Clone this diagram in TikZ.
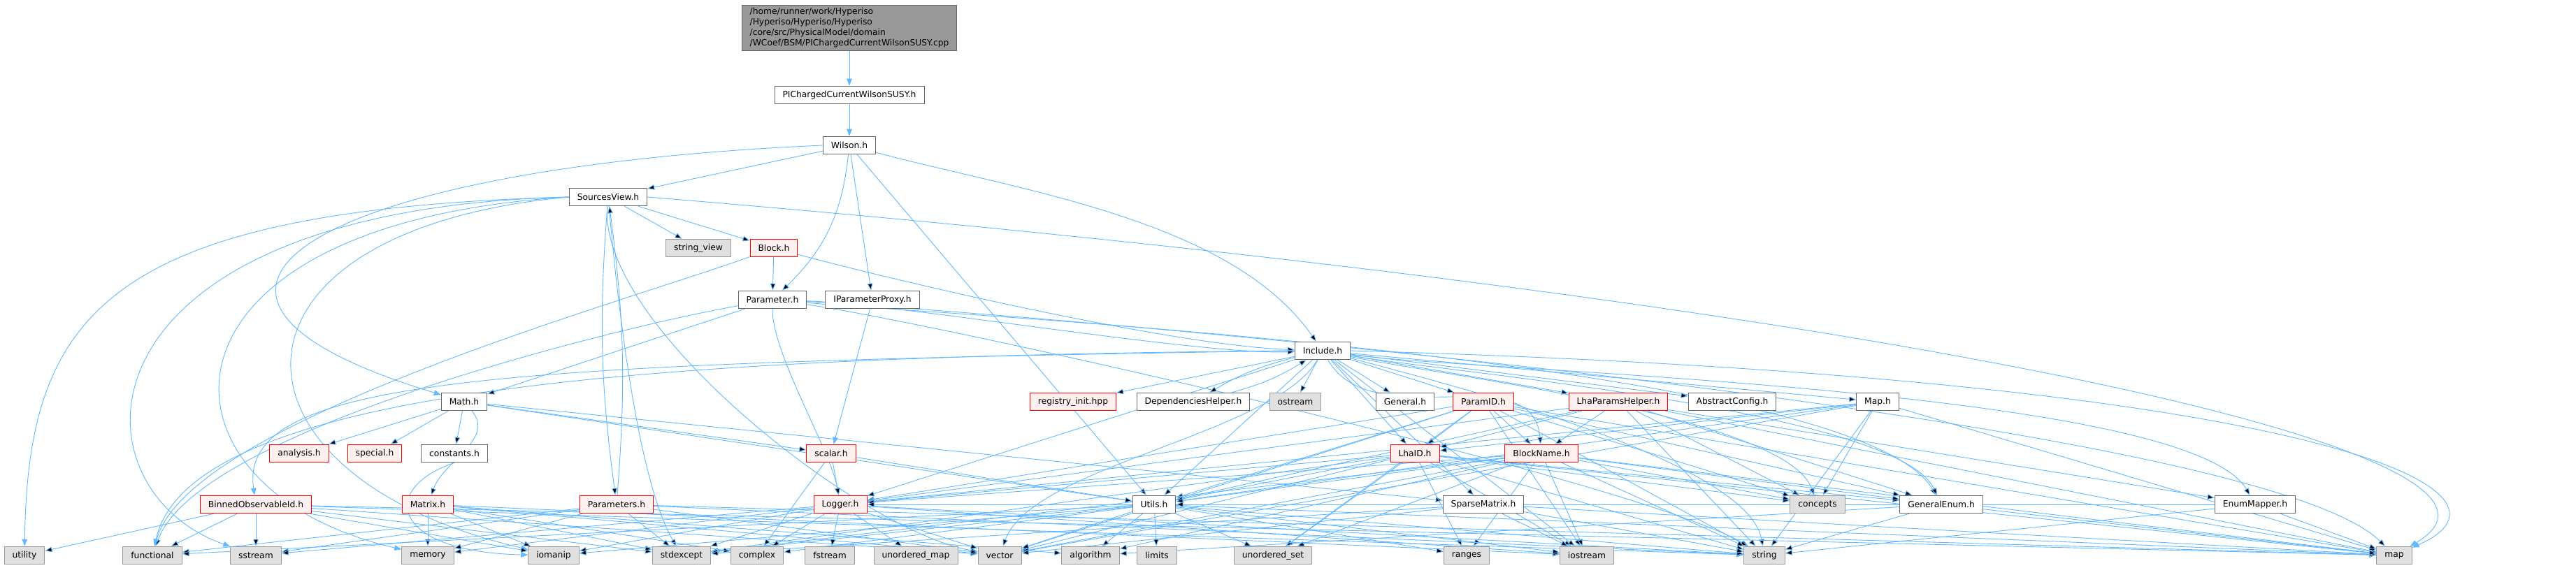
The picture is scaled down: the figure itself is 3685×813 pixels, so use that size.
\documentclass[tikz,border=0pt]{standalone}
\usepackage{fontspec}
\setmainfont{DejaVu Sans}
\usetikzlibrary{arrows.meta}
\definecolor{edgeblue}{HTML}{63B8FF}
\definecolor{boxgray}{HTML}{666666}
\definecolor{sysfill}{HTML}{E0E0E0}
\definecolor{sysdraw}{HTML}{999999}
\definecolor{redfill}{HTML}{FFF0F0}
\definecolor{topfill}{HTML}{999999}
\pgfdeclarelayer{edges}
\pgfsetlayers{edges,main}
\tikzset{
  hdr/.style={draw=boxgray,fill=white,line width=0.25pt,minimum height=6.375pt,
    inner xsep=2.875pt,inner ysep=0pt,font=\fontsize{3.075}{3.75}\selectfont},
  sys/.style={hdr,draw=sysdraw,fill=sysfill},
  miss/.style={hdr,draw=red,fill=redfill},
  dep/.style={draw=edgeblue,line width=0.225pt,-{Triangle[length=2.5pt,width=1.9pt]}},
}
\begin{document}
\begin{tikzpicture}[x=0.25pt,y=-0.25pt]
                \useasboundingbox (0,0) rectangle (3685,813);
                %% source file and its header
                \node[hdr,fill=topfill,align=left,inner ysep=1pt] (top) at (1215,40) {/home/runner/work/Hyperiso\\/Hyperiso/Hyperiso/Hyperiso\\/core/src/PhysicalModel/domain\\/WCoef/BSM/PIChargedCurrentWilsonSUSY.cpp};
                \node[hdr] (pich) at (1215,136) {PIChargedCurrentWilsonSUSY.h};
                \node[hdr] (wil) at (1215,208) {Wilson.h};
                \node[hdr] (sview) at (870,282) {SourcesView.h};
                \node[sys] (strv) at (999,355) {string\_view};
                \node[miss] (block) at (1107,355) {Block.h};
                \node[hdr] (param) at (1105,429) {Parameter.h};
                \node[hdr] (iproxy) at (1248,429) {IParameterProxy.h};
                \node[hdr] (inc) at (1892,502) {Include.h};
                %% rank below Include.h
                \node[hdr] (math) at (664,575) {Math.h};
                \node[miss] (reg) at (1535,575) {registry\_init.hpp};
                \node[hdr] (deph) at (1707,575) {DependenciesHelper.h};
                \node[sys] (ostr) at (1853,575) {ostream};
                \node[hdr] (gen) at (2010,575) {General.h};
                \node[miss] (pid) at (2122,575) {ParamID.h};
                \node[miss] (lhah) at (2315,575) {LhaParamsHelper.h};
                \node[hdr] (absc) at (2478,575) {AbstractConfig.h};
                \node[hdr] (mapn) at (2686,575) {Map.h};
                %% middle rank
                \node[miss] (ana) at (428,649) {analysis.h};
                \node[miss] (spec) at (536,649) {special.h};
                \node[hdr] (cnst) at (650,649) {constants.h};
                \node[miss] (scal) at (1189,649) {scalar.h};
                \node[miss] (lid) at (2024,649) {LhaID.h};
                \node[miss] (bname) at (2205,649) {BlockName.h};
                %% rank above the system headers
                \node[miss] (binned) at (366,722) {BinnedObservableId.h};
                \node[miss] (matrix) at (612,722) {Matrix.h};
                \node[miss] (params) at (882,722) {Parameters.h};
                \node[miss] (logger) at (1202,722) {Logger.h};
                \node[hdr] (utils) at (1651,722) {Utils.h};
                \node[hdr] (sparse) at (2122,722) {SparseMatrix.h};
                \node[sys] (conc) at (2600,722) {concepts};
                \node[hdr] (genum) at (2777,722) {GeneralEnum.h};
                \node[hdr] (emap) at (3226,722) {EnumMapper.h};
                %% system headers
                \node[sys] (utility) at (35,795) {utility};
                \node[sys] (functional) at (218,795) {functional};
                \node[sys] (sstream) at (366,795) {sstream};
                \node[sys] (memory) at (612,795) {memory};
                \node[sys] (iomanip) at (792,795) {iomanip};
                \node[sys] (stdexc) at (975,795) {stdexcept};
                \node[sys] (complex) at (1083,795) {complex};
                \node[sys] (fstream) at (1187,795) {fstream};
                \node[sys] (umap) at (1310,795) {unordered\_map};
                \node[sys] (vector) at (1430,795) {vector};
                \node[sys] (algo) at (1560,795) {algorithm};
                \node[sys] (limits) at (1655,795) {limits};
                \node[sys] (uset) at (1821,795) {unordered\_set};
                \node[sys] (ranges) at (2098,795) {ranges};
                \node[sys] (iostream) at (2270,795) {iostream};
                \node[sys] (string) at (2524,795) {string};
                \node[sys] (map) at (3425,795) {map};
                \begin{pgfonlayer}{edges}
                %% top chain
                \draw[dep] (top) -- (pich);
                \draw[dep] (pich) -- (wil);
                %% Wilson.h
                \draw[dep] (wil) edge (sview) edge[bend left=20] (param) edge (iproxy) edge (utils)
                    edge[out=-15,in=125,looseness=0.8] (inc);
                \draw[dep] (wil.west) .. controls (450,240) and (150,420) .. (math);
                %% SourcesView.h
                \draw[dep] (sview) edge (strv) edge (block) edge[bend right=6] (params)
                    edge[out=-95,in=170,looseness=0.6] (vector) edge[out=-85,in=120,looseness=0.6] (stdexc);
                \draw[dep] (sview.west) .. controls (150,300) and (40,450) .. (utility);
                \draw[dep] (sview.west) .. controls (90,300) and (95,700) .. (sstream);
                \draw[dep] (sview.west) .. controls (190,320) and (200,700) .. (memory);
                \draw[dep] (sview.west) .. controls (290,330) and (300,680) .. (iomanip);
                \draw[dep] (sview.east) .. controls (2600,420) and (3690,640) .. (map);
                \draw[dep] (params) edge[bend right=6] (sview);
                %% Block.h and Parameter.h
                \draw[dep] (block) edge (param) edge[out=-15,in=178,looseness=0.6] (inc)
                    edge[out=200,in=75,looseness=0.5] (functional);
                \draw[dep] (param) edge[out=-2,in=182,looseness=0.5] (inc) edge (math)
                    edge[out=190,in=70,looseness=0.5] (functional)
                    edge[out=-90,in=100,looseness=0.6] (logger) edge[out=-5,in=120,looseness=0.35] (genum)
                    edge[out=-8,in=150,looseness=0.35] (string) edge[out=-3,in=135,looseness=0.3] (map);
                \draw[dep] (iproxy) -- (scal);
                %% Include.h
                \draw[dep] (inc) edge (ostr) edge (gen) edge (pid) edge (lhah) edge (absc) edge (mapn)
                    edge (lid) edge[out=-60,in=95] (bname) edge[bend right=8] (deph) edge (reg)
                    edge (logger) edge (utils) edge (sparse) edge[out=-10,in=115,looseness=0.4] (genum)
                    edge[out=-8,in=120,looseness=0.35] (emap) edge[out=-12,in=110,looseness=0.45] (conc)
                    edge[out=-15,in=100,looseness=0.5] (string)
                    edge (iostream) edge[out=-120,in=70,looseness=0.6] (vector);
                \draw[dep] (inc.west) .. controls (700,520) and (340,540) .. (binned);
                \draw[dep] (inc.west) .. controls (900,510) and (270,560) .. (functional);
                \draw[dep] (inc.east) .. controls (3300,540) and (3640,700) .. (map);
                \draw[dep] (deph) edge[bend right=8] (inc);
                %% headers below Include.h
                \draw[dep] (pid) edge (lid) edge (bname) edge (genum) edge (conc) edge (string) edge (logger)
                    edge (utils) edge (uset) edge (iostream) edge (map) edge (vector);
                \draw[dep] (lhah) edge (bname) edge (lid) edge (logger) edge (utils) edge (conc)
                    edge (string) edge (map) edge (genum) edge (emap);
                \draw[dep] (mapn) edge (lid) edge (conc) edge (map) edge (string) edge (logger)
                    edge (utils) edge (vector);
                %% Math.h
                \draw[dep] (math) edge (ana) edge (spec) edge (cnst) edge[out=-50,in=70] (matrix)
                    edge (scal) edge (utils) edge (sparse);
                \draw[dep] (cnst.south) .. controls (540,700) and (560,790) .. (iomanip);
                \draw[dep] (scal) edge (logger) edge (utils) edge (complex);
                %% LhaID.h and BlockName.h
                \draw[dep] (lid) edge (logger) edge (utils) edge (uset) edge (ranges) edge (iostream)
                    edge (string) edge (genum) edge (conc) edge (map) edge (vector) edge (stdexc);
                \draw[dep] (bname) edge (logger) edge (utils) edge (uset) edge (ranges) edge (iostream)
                    edge (string) edge (genum) edge (conc) edge (map) edge (vector) edge (algo) edge (stdexc);
                %% rank above the system headers
                \draw[dep] (binned) edge (utility) edge (functional) edge (sstream) edge (stdexc)
                    edge (string) edge (vector) edge (map) edge (iomanip);
                \draw[dep] (matrix) edge (memory) edge (vector) edge (complex) edge (iostream)
                    edge (stdexc) edge (iomanip) edge (algo);
                \draw[dep] (params) edge (memory) edge (functional) edge (sstream) edge (stdexc)
                    edge (map) edge (string) edge (vector);
                \draw[dep] (logger) edge (complex) edge (fstream) edge (umap) edge (vector) edge (iostream)
                    edge (string) edge (sstream) edge (stdexc) edge (iomanip) edge (memory);
                \draw[dep] (utils) edge (limits) edge (algo) edge (uset) edge (vector) edge (stdexc)
                    edge (complex) edge (string) edge (map) edge (ranges) edge (iostream)
                    edge (functional) edge (iomanip);
                \draw[dep] (sparse) edge (vector) edge (iostream) edge (map) edge (string) edge (stdexc);
                \draw[dep] (genum) edge (string) edge (map) edge (algo);
                \draw[dep] (emap) edge (map) edge (string) edge (logger) edge (utils);
                \end{pgfonlayer}
            \end{tikzpicture}
\end{document}
